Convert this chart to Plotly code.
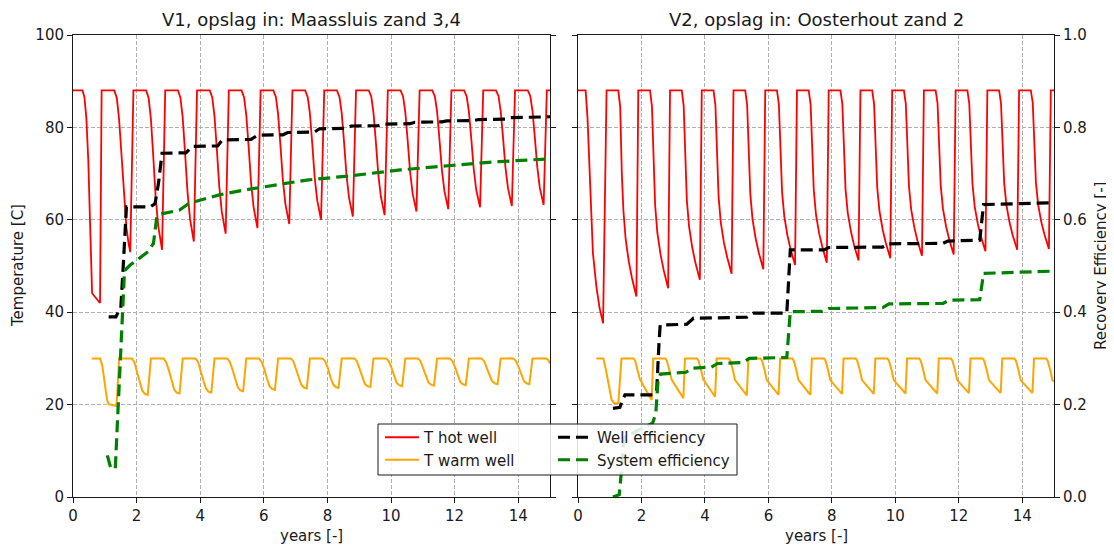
import plotly.graph_objects as go

# ---------------- data ----------------
TITLES = ["V1, opslag in: Maassluis zand 3,4", "V2, opslag in: Oosterhout zand 2"]
X_TICKS = [0, 2, 4, 6, 8, 10, 12, 14]
T_TICKS = [0, 20, 40, 60, 80, 100]
E_TICKS = [0.0, 0.2, 0.4, 0.6, 0.8, 1.0]
SERIES_NAMES = ["T hot well", "T warm well", "Well efficiency", "System efficiency"]

# ---- V1 ----
T_HOT_V1_X = [
    0.00, 0.30, 0.36, 0.42, 0.48, 0.53, 0.57, 0.60, 0.85,
    0.90, 1.30, 1.38, 1.45, 1.52, 1.60, 1.68, 1.75, 1.80,
    1.90, 2.30, 2.38, 2.45, 2.52, 2.60, 2.68, 2.75, 2.80,
    2.90, 3.30, 3.38, 3.45, 3.52, 3.60, 3.68, 3.75, 3.80,
    3.90, 4.30, 4.38, 4.45, 4.52, 4.60, 4.68, 4.75, 4.80,
    4.90, 5.30, 5.38, 5.45, 5.52, 5.60, 5.68, 5.75, 5.80,
    5.90, 6.30, 6.38, 6.45, 6.52, 6.60, 6.68, 6.75, 6.80,
    6.90, 7.30, 7.38, 7.45, 7.52, 7.60, 7.68, 7.75, 7.80,
    7.90, 8.30, 8.38, 8.45, 8.52, 8.60, 8.68, 8.75, 8.80,
    8.90, 9.30, 9.38, 9.45, 9.52, 9.60, 9.68, 9.75, 9.80,
    9.90, 10.30, 10.38, 10.45, 10.52, 10.60, 10.68, 10.75, 10.80,
    10.90, 11.30, 11.38, 11.45, 11.52, 11.60, 11.68, 11.75, 11.80,
    11.90, 12.30, 12.38, 12.45, 12.52, 12.60, 12.68, 12.75, 12.80,
    12.90, 13.30, 13.38, 13.45, 13.52, 13.60, 13.68, 13.75, 13.80,
    13.90, 14.30, 14.38, 14.45, 14.52, 14.60, 14.68, 14.75, 14.80,
    14.90, 15.00,
]
T_HOT_V1_Y = [
    88, 88, 86.5, 82.0, 73.0, 61.0, 50.0, 44.1, 42.0,
    88, 88, 86.3, 81.7, 74.0, 64.6, 58.3, 54.8, 53.0,
    88, 88, 86.3, 81.8, 74.2, 64.9, 58.7, 55.2, 53.5,
    88, 88, 86.4, 82.1, 74.9, 66.1, 60.2, 56.9, 55.3,
    88, 88, 86.5, 82.4, 75.6, 67.2, 61.7, 58.6, 57.0,
    88, 88, 86.5, 82.6, 76.1, 68.0, 62.7, 59.7, 58.2,
    88, 88, 86.6, 82.8, 76.4, 68.6, 63.4, 60.5, 59.1,
    88, 88, 86.6, 83.0, 76.8, 69.2, 64.2, 61.4, 60.0,
    88, 88, 86.6, 83.1, 77.1, 69.7, 64.8, 62.1, 60.7,
    88, 88, 86.7, 83.1, 77.2, 69.9, 65.1, 62.4, 61.0,
    88, 88, 86.7, 83.3, 77.5, 70.4, 65.7, 63.1, 61.8,
    88, 88, 86.7, 83.4, 77.7, 70.8, 66.2, 63.6, 62.3,
    88, 88, 86.7, 83.4, 77.9, 71.1, 66.5, 64.0, 62.7,
    88, 88, 86.8, 83.5, 78.0, 71.3, 66.8, 64.3, 63.0,
    88, 88, 86.8, 83.5, 78.1, 71.4, 66.9, 64.4, 63.2,
    88, 88,
]
T_WARM_V1_X = [
    0.59, 0.85, 0.92, 1.00, 1.07, 1.12, 1.37,
    1.45, 1.85, 1.93, 2.02, 2.10, 2.18, 2.26, 2.35,
    2.45, 2.85, 2.93, 3.02, 3.10, 3.18, 3.26, 3.35,
    3.45, 3.85, 3.93, 4.02, 4.10, 4.18, 4.26, 4.35,
    4.45, 4.85, 4.93, 5.02, 5.10, 5.18, 5.26, 5.35,
    5.45, 5.85, 5.93, 6.02, 6.10, 6.18, 6.26, 6.35,
    6.45, 6.85, 6.93, 7.02, 7.10, 7.18, 7.26, 7.35,
    7.45, 7.85, 7.93, 8.02, 8.10, 8.18, 8.26, 8.35,
    8.45, 8.85, 8.93, 9.02, 9.10, 9.18, 9.26, 9.35,
    9.45, 9.85, 9.93, 10.02, 10.10, 10.18, 10.26, 10.35,
    10.45, 10.85, 10.93, 11.02, 11.10, 11.18, 11.26, 11.35,
    11.45, 11.85, 11.93, 12.02, 12.10, 12.18, 12.26, 12.35,
    12.45, 12.85, 12.93, 13.02, 13.10, 13.18, 13.26, 13.35,
    13.45, 13.85, 13.93, 14.02, 14.10, 14.18, 14.26, 14.35,
    14.45, 14.88, 14.95, 15.00,
]
T_WARM_V1_Y = [
    30, 30, 28.5, 24.0, 21.0, 20.1, 19.7,
    30, 30, 29.2, 27.2, 24.9, 23.0, 22.3, 22.1,
    30, 30, 29.2, 27.3, 25.1, 23.3, 22.6, 22.4,
    30, 30, 29.3, 27.4, 25.2, 23.5, 22.8, 22.6,
    30, 30, 29.3, 27.5, 25.4, 23.8, 23.1, 22.9,
    30, 30, 29.3, 27.6, 25.6, 24.0, 23.4, 23.2,
    30, 30, 29.4, 27.7, 25.8, 24.3, 23.7, 23.5,
    30, 30, 29.4, 27.8, 25.8, 24.4, 23.8, 23.6,
    30, 30, 29.4, 27.8, 26.0, 24.5, 24.0, 23.8,
    30, 30, 29.4, 27.9, 26.1, 24.7, 24.2, 24.0,
    30, 30, 29.4, 27.9, 26.2, 24.8, 24.3, 24.1,
    30, 30, 29.4, 28.0, 26.2, 24.9, 24.4, 24.2,
    30, 30, 29.4, 28.0, 26.4, 25.1, 24.6, 24.4,
    30, 30, 29.4, 28.0, 26.4, 25.1, 24.6, 24.4,
    30, 30, 29.6, 28.9,
]
EFF_WELL_V1_X = [1.12, 1.35, 1.42, 1.50, 1.58, 1.68, 2.43, 2.58, 2.69, 2.80, 3.55, 3.75,
                 4.55, 4.70, 5.60, 5.80, 6.60, 6.75, 7.60, 7.75, 8.60, 8.75, 9.60, 9.75,
                 10.60, 10.75, 11.60, 11.75, 12.60, 12.75, 13.60, 13.75, 15.00]
EFF_WELL_V1_Y = [0.390, 0.390, 0.400, 0.405, 0.500, 0.628, 0.628, 0.635, 0.680, 0.744, 0.745, 0.759,
                 0.760, 0.773, 0.774, 0.783, 0.784, 0.789, 0.790, 0.797, 0.798, 0.803, 0.804, 0.807,
                 0.808, 0.811, 0.812, 0.814, 0.815, 0.817, 0.818, 0.821, 0.823]
EFF_SYS_V1_X = [1.08, 1.19, 1.33, 1.62, 1.80, 2.10, 2.36, 2.53, 2.63, 2.72, 3.35, 3.66,
                4.60, 5.35, 6.30, 7.35, 8.70, 10.30, 11.80, 13.40, 15.00]
EFF_SYS_V1_Y = [0.090, 0.062, 0.062, 0.490, 0.502, 0.517, 0.531, 0.549, 0.603, 0.612, 0.621, 0.636,
                0.654, 0.664, 0.675, 0.686, 0.695, 0.708, 0.717, 0.726, 0.732]

# ---- V2 ----
T_HOT_V2_X = [
    0.00, 0.24, 0.30, 0.37, 0.47, 0.58, 0.68, 0.79,
    0.90, 1.27, 1.33, 1.38, 1.43, 1.50, 1.60, 1.70, 1.78, 1.84,
    1.90, 2.27, 2.33, 2.38, 2.43, 2.50, 2.60, 2.70, 2.78, 2.84,
    2.90, 3.27, 3.33, 3.38, 3.43, 3.50, 3.60, 3.70, 3.78, 3.84,
    3.90, 4.27, 4.33, 4.38, 4.43, 4.50, 4.60, 4.70, 4.78, 4.84,
    4.90, 5.27, 5.33, 5.38, 5.43, 5.50, 5.60, 5.70, 5.78, 5.84,
    5.90, 6.27, 6.33, 6.38, 6.43, 6.50, 6.60, 6.70, 6.78, 6.84,
    6.90, 7.27, 7.33, 7.38, 7.43, 7.50, 7.60, 7.70, 7.78, 7.84,
    7.90, 8.27, 8.33, 8.38, 8.43, 8.50, 8.60, 8.70, 8.78, 8.84,
    8.90, 9.27, 9.33, 9.38, 9.43, 9.50, 9.60, 9.70, 9.78, 9.84,
    9.90, 10.27, 10.33, 10.38, 10.43, 10.50, 10.60, 10.70, 10.78, 10.84,
    10.90, 11.27, 11.33, 11.38, 11.43, 11.50, 11.60, 11.70, 11.78, 11.84,
    11.90, 12.27, 12.33, 12.38, 12.43, 12.50, 12.60, 12.70, 12.78, 12.84,
    12.90, 13.27, 13.33, 13.38, 13.43, 13.50, 13.60, 13.70, 13.78, 13.84,
    13.90, 14.27, 14.33, 14.38, 14.43, 14.50, 14.60, 14.70, 14.78, 14.84,
    14.90, 15.00,
]
T_HOT_V2_Y = [
    88, 88, 82.0, 70.8, 52.8, 45.5, 40.9, 37.6,
    88, 88, 84.4, 70.2, 62.1, 55.9, 51.0, 47.4, 44.7, 43.4,
    88, 88, 84.6, 70.9, 63.2, 57.2, 52.5, 49.1, 46.5, 45.2,
    88, 88, 84.7, 71.6, 64.2, 58.5, 54.0, 50.7, 48.2, 47.0,
    88, 88, 84.8, 72.1, 65.0, 59.4, 55.0, 51.9, 49.5, 48.3,
    88, 88, 84.9, 72.5, 65.6, 60.1, 55.9, 52.8, 50.5, 49.3,
    88, 88, 85.0, 72.9, 66.1, 60.8, 56.6, 53.6, 51.3, 50.2,
    88, 88, 85.0, 73.1, 66.4, 61.1, 57.0, 54.1, 51.8, 50.7,
    88, 88, 85.1, 73.3, 66.7, 61.5, 57.5, 54.5, 52.3, 51.2,
    88, 88, 85.1, 73.5, 66.9, 61.9, 57.9, 55.0, 52.8, 51.7,
    88, 88, 85.1, 73.7, 67.2, 62.2, 58.3, 55.4, 53.3, 52.2,
    88, 88, 85.2, 73.8, 67.4, 62.4, 58.5, 55.7, 53.6, 52.5,
    88, 88, 85.2, 74.1, 67.8, 62.9, 59.1, 56.3, 54.2, 53.2,
    88, 88, 85.2, 74.2, 68.0, 63.2, 59.4, 56.6, 54.5, 53.5,
    88, 88, 85.3, 74.3, 68.1, 63.3, 59.5, 56.8, 54.7, 53.7,
    88, 88,
]
T_WARM_V2_X = [
    0.58, 0.80, 0.88, 0.95, 1.06, 1.14, 1.27,
    1.37, 1.75, 1.80, 1.88, 1.95, 2.32,
    2.37, 2.75, 2.80, 2.88, 2.95, 3.32,
    3.37, 3.75, 3.80, 3.88, 3.95, 4.32,
    4.37, 4.75, 4.80, 4.88, 4.95, 5.32,
    5.37, 5.75, 5.80, 5.88, 5.95, 6.32,
    6.37, 6.75, 6.80, 6.88, 6.95, 7.32,
    7.37, 7.75, 7.80, 7.88, 7.95, 8.32,
    8.37, 8.75, 8.80, 8.88, 8.95, 9.32,
    9.37, 9.75, 9.80, 9.88, 9.95, 10.32,
    10.37, 10.75, 10.80, 10.88, 10.95, 11.32,
    11.37, 11.75, 11.80, 11.88, 11.95, 12.32,
    12.37, 12.75, 12.80, 12.88, 12.95, 13.32,
    13.37, 13.75, 13.80, 13.88, 13.95, 14.32,
    14.37, 14.75, 14.80, 14.88, 14.95, 15.00,
]
T_WARM_V2_Y = [
    30, 30, 27.5, 24.6, 21.0, 20.3, 20.3,
    30, 30, 29.5, 27.5, 25.5, 21.0,
    30, 30, 29.5, 27.5, 25.4, 21.4,
    30, 30, 29.5, 27.5, 25.4, 21.7,
    30, 30, 29.5, 27.5, 25.3, 22.0,
    30, 30, 29.5, 27.5, 25.3, 22.1,
    30, 30, 29.5, 27.5, 25.3, 22.1,
    30, 30, 29.5, 27.5, 25.3, 22.3,
    30, 30, 29.5, 27.5, 25.3, 22.3,
    30, 30, 29.5, 27.5, 25.3, 22.4,
    30, 30, 29.5, 27.5, 25.3, 22.4,
    30, 30, 29.5, 27.5, 25.3, 22.5,
    30, 30, 29.5, 27.5, 25.3, 22.5,
    30, 30, 29.5, 27.5, 25.3, 22.5,
    30, 30, 29.5, 27.5, 25.3, 25.0,
]
EFF_WELL_V2_X = [1.10, 1.32, 1.40, 1.48, 2.38, 2.48, 2.55, 2.59, 3.43, 3.64, 5.32, 5.53,
                 6.58, 6.69, 7.75, 7.90, 9.60, 9.75, 11.50, 11.65, 12.66, 12.78, 15.00]
EFF_WELL_V2_Y = [0.192, 0.194, 0.210, 0.221, 0.221, 0.230, 0.330, 0.372, 0.374, 0.387, 0.389, 0.398,
                 0.398, 0.535, 0.535, 0.540, 0.541, 0.548, 0.549, 0.554, 0.556, 0.633, 0.637]
EFF_SYS_V2_X = [1.10, 1.30, 1.36, 1.42, 1.48, 2.35, 2.45, 2.52, 2.60, 3.40, 3.60, 4.20, 4.40,
                5.20, 5.40, 6.58, 6.69, 7.70, 7.90, 9.60, 9.80, 11.50, 11.70, 12.66, 12.78, 14.00, 15.00]
EFF_SYS_V2_Y = [0.000, 0.005, 0.050, 0.110, 0.130, 0.160, 0.180, 0.250, 0.266, 0.270, 0.279, 0.281, 0.289,
                0.291, 0.300, 0.302, 0.401, 0.402, 0.408, 0.410, 0.418, 0.419, 0.426, 0.427, 0.484, 0.487, 0.489]

# ---------------- figure ----------------
# the page body has an 8px margin, so the figure is drawn 8px in from the window corner
OFF = 8
W, H = 1114 - OFF, 546 - OFF
FONT = "DejaVu Sans"
INK = "#1a1a1a"
RED, ORANGE, BLACK, GREEN = "#ff0000", "#ffa500", "#000000", "#008000"
DASH = "12px,6px"


def fx(p):
    """screen x pixel -> paper fraction"""
    return (p - OFF) / W


def fy(p):
    """screen y pixel -> paper fraction"""
    return 1 - (p - OFF) / H


XD1 = [fx(73), fx(550)]
XD2 = [fx(578), fx(1054)]
YD = [fy(497), fy(35)]

fig = go.Figure()

panels = [
    (T_HOT_V1_X, T_HOT_V1_Y, T_WARM_V1_X, T_WARM_V1_Y, EFF_WELL_V1_X, EFF_WELL_V1_Y,
     EFF_SYS_V1_X, EFF_SYS_V1_Y, "x", "y", "y2", True),
    (T_HOT_V2_X, T_HOT_V2_Y, T_WARM_V2_X, T_WARM_V2_Y, EFF_WELL_V2_X, EFF_WELL_V2_Y,
     EFF_SYS_V2_X, EFF_SYS_V2_Y, "x2", "y3", "y4", False),
]
for (hx, hy, wx, wy, ex, ey, sx, sy, xa, ya, ea, show) in panels:
    fig.add_trace(go.Scatter(x=hx, y=hy, mode="lines", name=SERIES_NAMES[0],
                             line=dict(color=RED, width=1.8), xaxis=xa, yaxis=ya,
                             showlegend=show, legend="legend"))
    fig.add_trace(go.Scatter(x=wx, y=wy, mode="lines", name=SERIES_NAMES[1],
                             line=dict(color=ORANGE, width=2), xaxis=xa, yaxis=ya,
                             showlegend=show, legend="legend"))
    fig.add_trace(go.Scatter(x=ex, y=ey, mode="lines", name=SERIES_NAMES[2],
                             line=dict(color=BLACK, width=3.2, dash=DASH), xaxis=xa, yaxis=ea,
                             showlegend=show, legend="legend2"))
    fig.add_trace(go.Scatter(x=sx, y=sy, mode="lines", name=SERIES_NAMES[3],
                             line=dict(color=GREEN, width=3.2, dash=DASH), xaxis=xa, yaxis=ea,
                             showlegend=show, legend="legend2"))

common = dict(showline=True, linecolor=INK, linewidth=1, ticks="outside", ticklen=5,
              tickwidth=1, tickcolor=INK, tickfont=dict(family=FONT, size=15, color=INK),
              zeroline=False, automargin=False)
grid = dict(showgrid=True, gridcolor="#b0b0b0", gridwidth=1, griddash="4px,2px")

legend_common = dict(yanchor="top", xanchor="left", bgcolor="rgba(0,0,0,0)", borderwidth=0,
                     font=dict(family=FONT, size=15, color=INK), tracegroupgap=0, itemwidth=34)

fig.update_layout(
    width=W, height=H,
    margin=dict(l=0, r=0, t=0, b=0),
    paper_bgcolor="white", plot_bgcolor="white",
    font=dict(family=FONT, size=15, color=INK),
    xaxis=dict(domain=XD1, anchor="y", range=[0, 15], tickvals=X_TICKS, mirror=True, **grid, **common),
    yaxis=dict(domain=YD, anchor="x", range=[0, 100], tickvals=T_TICKS, **grid, **common),
    yaxis2=dict(domain=YD, anchor="x", overlaying="y", side="right", range=[0, 1], tickvals=E_TICKS,
                showticklabels=False, showgrid=False, **common),
    xaxis2=dict(domain=XD2, anchor="y3", range=[0, 15], tickvals=X_TICKS, mirror=True, **grid, **common),
    yaxis3=dict(domain=YD, anchor="x2", range=[0, 100], tickvals=T_TICKS, showticklabels=False,
                **grid, **common),
    yaxis4=dict(domain=YD, anchor="x2", overlaying="y3", side="right", range=[0, 1], tickvals=E_TICKS,
                tickformat=".1f", showgrid=False, **common),
    legend=dict(x=fx(380), y=fy(421), **legend_common),
    legend2=dict(x=fx(553), y=fy(421), **legend_common),
    shapes=[dict(type="rect", xref="paper", yref="paper", x0=fx(378), x1=fx(737), y0=fy(475), y1=fy(424),
                 line=dict(color=INK, width=1), fillcolor="rgba(255,255,255,0.85)", layer="above")],
)

ann = []
for title, xc in zip(TITLES, [fx(311.5), fx(816)]):
    ann.append(dict(text=title, x=xc, y=fy(19), xref="paper", yref="paper", showarrow=False,
                    xanchor="center", yanchor="middle", font=dict(family=FONT, size=18, color=INK)))
    ann.append(dict(text="years [-]", x=xc, y=fy(536), xref="paper", yref="paper", showarrow=False,
                    xanchor="center", yanchor="middle", font=dict(family=FONT, size=15, color=INK)))
ann.append(dict(text="Temperature [C]", x=fx(18), y=fy(266), xref="paper", yref="paper", showarrow=False,
                textangle=-90, xanchor="center", yanchor="middle", font=dict(family=FONT, size=15, color=INK)))
ann.append(dict(text="Recovery Efficiency [-]", x=fx(1101), y=fy(266), xref="paper", yref="paper",
                showarrow=False, textangle=-90, xanchor="center", yanchor="middle",
                font=dict(family=FONT, size=15, color=INK)))
fig.update_layout(annotations=ann)

fig.write_html("out.html")
